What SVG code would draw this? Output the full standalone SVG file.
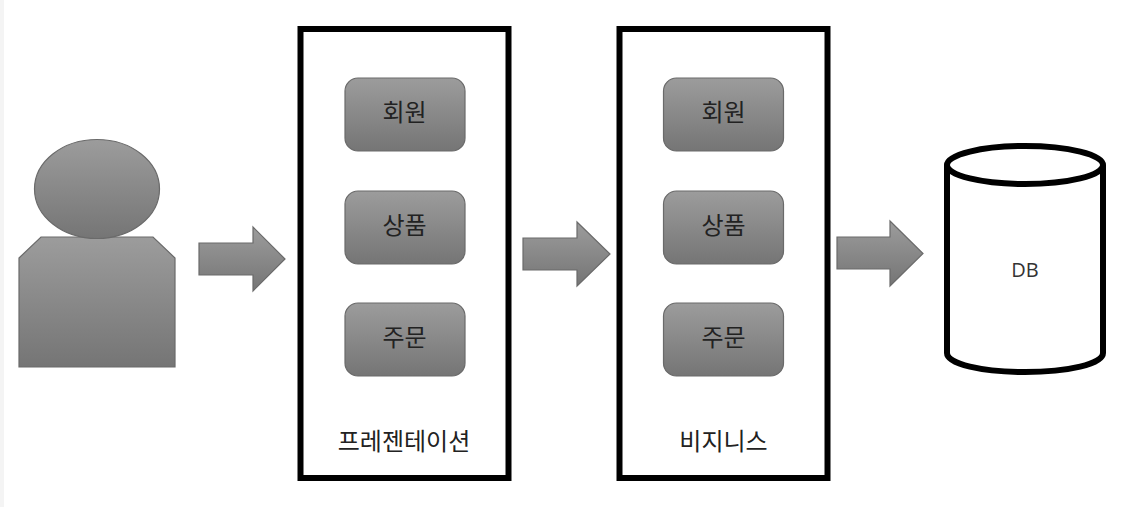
<svg xmlns="http://www.w3.org/2000/svg" width="1123" height="507" viewBox="0 0 1123 507">
<style>
.g{fill:url(#grad);stroke:#6a6a6a;stroke-width:1.2}
.box{fill:#fff;stroke:#000;stroke-width:6}
.db{fill:#fff;stroke:#000;stroke-width:6}
text{font-family:"Noto Sans CJK KR","Noto Sans",sans-serif;font-size:24px;fill:#222;text-anchor:middle}
.lb{fill:#333}
.en{font-family:"Open Sans","Noto Sans",sans-serif;font-size:20px;fill:#333}
</style>
<defs>
<linearGradient id="grad" x1="0" y1="0" x2="0" y2="1"><stop offset="0" stop-color="#9c9c9c"/><stop offset="1" stop-color="#757575"/></linearGradient>
</defs>
<rect width="1123" height="507" fill="#fff"/>
<rect width="4" height="507" fill="#f4f4f4"/>
<g id="user">
<path class="g" d="M19 258L41 237H153L175 258V367H19Z"/>
<ellipse class="g" cx="97" cy="189" rx="62.5" ry="49.5"/>
</g>
<g id="presentation">
<rect class="box" x="300.5" y="29" width="208" height="449"/>
<text x="404" y="450">프레젠테이션</text>
<g id="p-member"><rect class="g" x="345" y="78" width="120" height="73" rx="13"/><text x="404.500" y="121">회원</text></g>
<g id="p-product"><rect class="g" x="345" y="191" width="120" height="73" rx="13"/><text x="404.500" y="234">상품</text></g>
<g id="p-order"><rect class="g" x="345" y="303" width="120" height="73" rx="13"/><text x="404.500" y="346">주문</text></g>
</g>
<g id="business">
<rect class="box" x="619.500" y="29" width="208" height="449"/>
<text x="723.500" y="450">비지니스</text>
<g id="b-member"><rect class="g" x="663.500" y="78" width="120" height="73" rx="13"/><text x="723.500" y="121">회원</text></g>
<g id="b-product"><rect class="g" x="663.500" y="191" width="120" height="73" rx="13"/><text x="723.500" y="234">상품</text></g>
<g id="b-order"><rect class="g" x="663.500" y="303" width="120" height="73" rx="13"/><text x="723.500" y="346">주문</text></g>
</g>
<g id="db">
<path class="db" d="M947 165V353C947 364 982 372 1025 372S1103 364 1103 353V165"/>
<ellipse class="db" cx="1025" cy="165" rx="78" ry="19"/>
<text class="en" x="1025" y="277">DB</text>
</g>
<g id="connectors">
<path class="g" d="M199 243H253V227L285 259L253 291V275H199Z"/>
<path class="g" d="M523 238H577V222L610 254L577 286V270H523Z"/>
<path class="g" d="M837 237H890V221L923 253.500L890 286V269H837Z"/>
</g>
</svg>
